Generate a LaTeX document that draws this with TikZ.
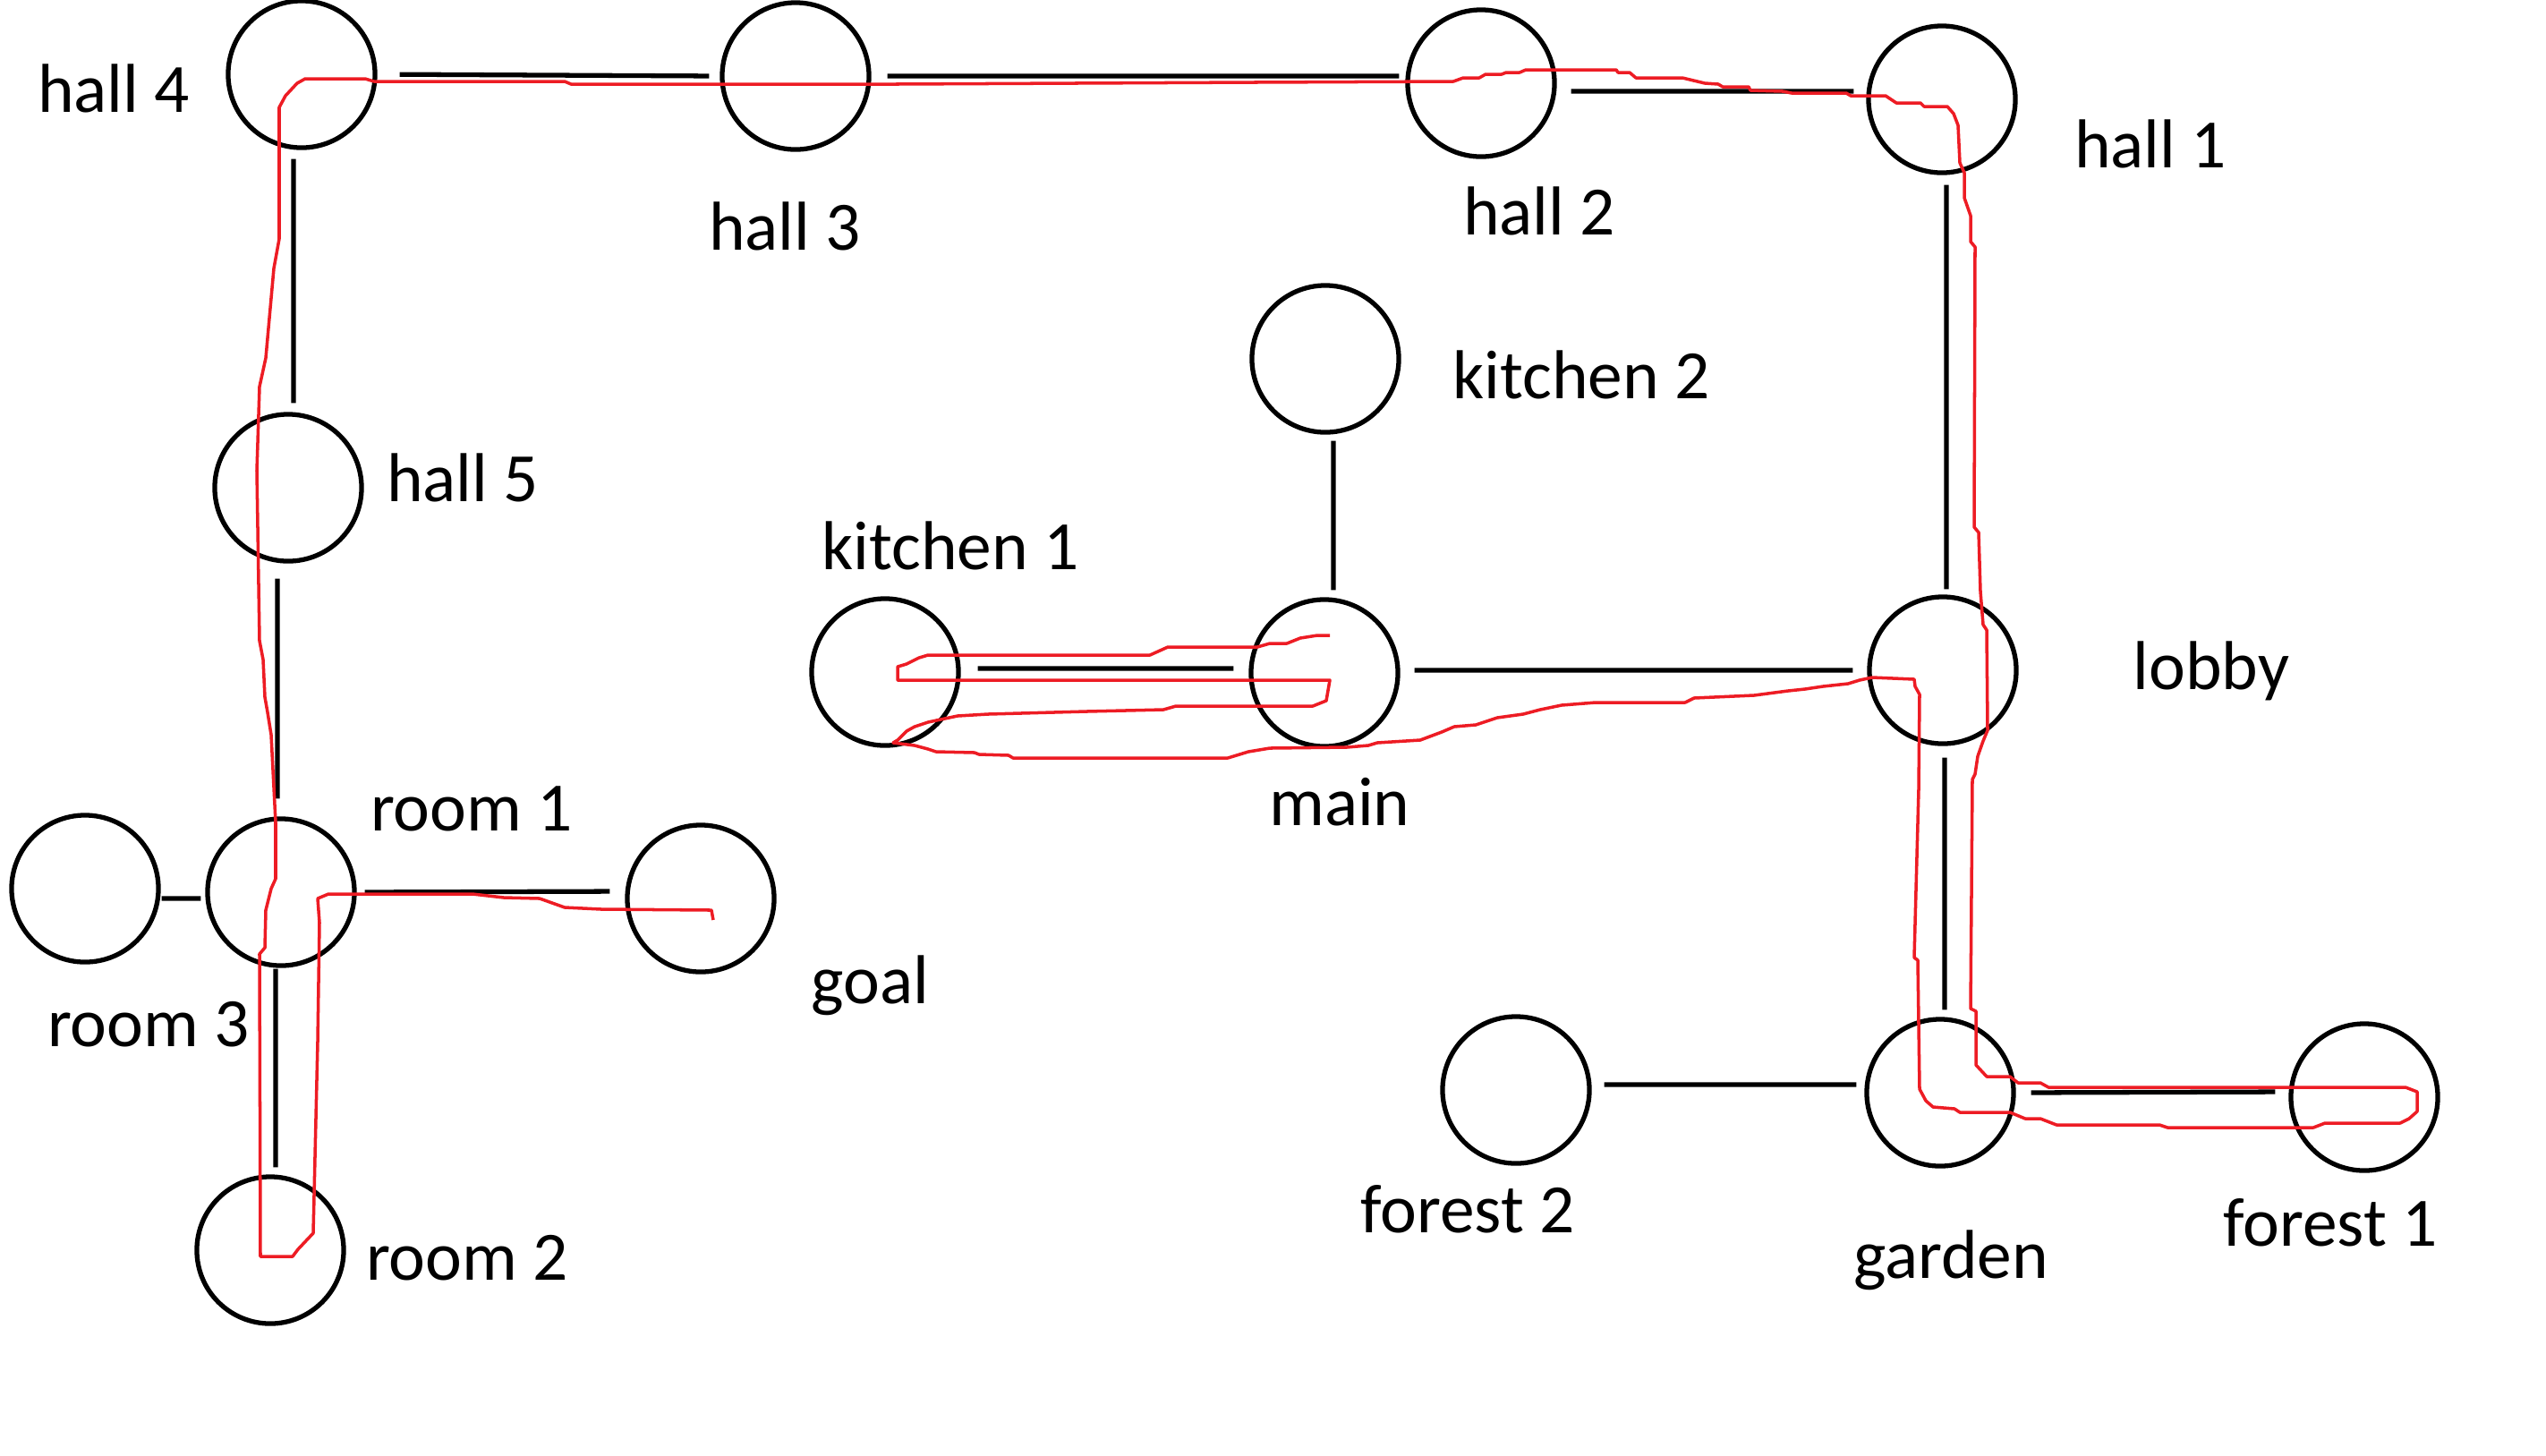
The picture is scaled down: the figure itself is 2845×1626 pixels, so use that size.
\documentclass[tikz,border=0pt]{standalone}
\usepackage{fontspec}
\setmainfont{Carlito}
\usepackage{xcolor}
\usepackage{tikz}
\usetikzlibrary{positioning}
\definecolor{paintred}{RGB}{237,28,36}

\begin{document}
\begin{tikzpicture}
	[x=0.01cm, y=-0.01cm,
		% STYLES
		% The place style is used for the rooms of the map
		place/.style={circle, draw, line width=1.5pt, minimum size=1.64cm, inner sep=0pt},
		% The tag style is used to write the name of each place
		tag/.style={anchor=base, inner sep=0pt, font=\fontsize{22}{26}\selectfont},
		% The way style is used for the passages between places
		way/.style={line width=1.5pt, shorten <=0.12cm, shorten >=0.12cm},
		% The route style is used for the path that was walked
		route/.style={draw=paintred, line width=1pt, line join=round}]

	\useasboundingbox (0,0) rectangle (2845,1626);

	% Draw places
	\node [place] (hall4) at (337,83) {};
	\node [place] (hall3) at (889,85) {};
	\node [place] (hall2) at (1655,93) {};
	\node [place] (hall1) at (2170,111) {};
	\node [place] (kitchen2) at (1481,401) {};
	\node [place] (hall5) at (322,545) {};
	\node [place] (kitchen1) at (989,751) {};
	\node [place] (main) at (1480,752) {};
	\node [place] (lobby) at (2171,749) {};
	\node [place] (room3) at (95,993) {};
	\node [place] (room1) at (314,997) {};
	\node [place] (goal) at (783,1004) {};
	\node [place] (forest2) at (1694,1218) {};
	\node [place] (garden) at (2168,1221) {};
	\node [place] (forest1) at (2642,1226) {};
	\node [place] (room2) at (302,1397) {};

	% Draw names
	\node [tag] (hall4-t) at (127,125) {hall 4};
	\node [tag] (hall3-t) at (877,279) {hall 3};
	\node [tag] (hall2-t) at (1720,262) {hall 2};
	\node [tag] (hall1-t) at (2403,187) {hall 1};
	\node [tag] (kitchen2-t) at (1767,445) {kitchen 2};
	\node [tag] (hall5-t) at (517,560) {hall 5};
	\node [tag] (kitchen1-t) at (1062,636) {kitchen 1};
	\node [tag] (lobby-t) at (2471,770) {lobby};
	\node [tag] (main-t) at (1497,922) {main};
	\node [tag] (room1-t) at (527,928) {room 1};
	\node [tag] (room3-t) at (166,1169) {room 3};
	\node [tag] (goal-t) at (972,1121) {goal};
	\node [tag] (forest2-t) at (1640,1377) {forest 2};
	\node [tag] (garden-t) at (2180,1428) {garden};
	\node [tag] (forest1-t) at (2604,1392) {forest 1};
	\node [tag] (room2-t) at (522,1430) {room 2};

	\path[way]
	(hall4.east) edge[shorten <=0.25cm] (hall3.west)
	(hall3.east) edge[shorten <=0.18cm, shorten >=0.07cm] ([yshift=0.08cm]hall2.west)
	([yshift=-0.09cm]hall2.east) edge[shorten <=0.16cm, shorten >=0.14cm] ([yshift=0.09cm]hall1.west)
	([xshift=0.05cm]hall1.south) edge[shorten <=0.11cm, shorten >=0.06cm] ([xshift=0.04cm]lobby.north)
	([xshift=-0.09cm]hall4.south) edge[shorten <=0.1cm, shorten >=0.1cm] ([xshift=0.06cm]hall5.north)
	([xshift=-0.12cm]hall5.south) edge[shorten <=0.17cm, shorten >=0.2cm] ([xshift=-0.04cm]room1.north)
	([yshift=-0.07cm]room1.west) edge[shorten <=0.05cm, shorten >=0.01cm] ([yshift=-0.11cm]room3.east)
	(room1.east) edge[shorten <=0.09cm, shorten >=0.17cm] ([yshift=0.08cm]goal.west)
	([xshift=-0.06cm]room1.south) edge[shorten <=0.01cm, shorten >=0.08cm] ([xshift=0.06cm]room2.north)
	([xshift=0.09cm]kitchen2.south) edge[shorten <=0.07cm, shorten >=0.08cm] ([xshift=0.1cm]main.north)
	([yshift=0.04cm]kitchen1.east) edge[shorten <=0.19cm, shorten >=0.17cm] ([yshift=0.05cm]main.west)
	([yshift=0.03cm]main.east) edge[shorten <=0.16cm, shorten >=0.16cm] (lobby.west)
	([xshift=0.02cm]lobby.south) edge[shorten <=0.13cm, shorten >=0.08cm] ([xshift=0.05cm]garden.north)
	([yshift=0.09cm]garden.west) edge[shorten <=0.09cm, shorten >=0.14cm] ([yshift=0.06cm]forest2.east)
	(garden.east) edge[shorten <=0.17cm, shorten >=0.15cm] ([yshift=0.06cm]forest1.west);

	% Draw the walked route
	\draw[route] (797,1028) -- (795,1017) -- (672,1016) -- (631,1014) -- (603,1004) -- (563,1003) -- (528,999)
	-- (367,999) -- (355,1004) -- (357,1031) -- (355,1164) -- (351,1336) -- (350,1378) -- (333,1396) -- (327,1404)
	-- (291,1404) -- (290,1066) -- (296,1059) -- (297,1017) -- (303,993) -- (308,982) -- (308,919) -- (303,821)
	-- (299,796) -- (296,779) -- (294,737) -- (290,716) -- (287,526) -- (290,432) -- (297,400) -- (306,300)
	-- (312,267) -- (312,120) -- (319,107) -- (332,93) -- (341,88) -- (408,88) -- (418,91) -- (631,91) -- (638,94)
	-- (1000,94) -- (1400,92) -- (1624,91) -- (1635,87) -- (1653,87) -- (1660,83) -- (1678,83) -- (1683,81)
	-- (1698,81) -- (1705,78) -- (1806,78) -- (1808,81) -- (1821,81) -- (1828,87) -- (1880,87) -- (1905,93)
	-- (1920,94) -- (1925,97) -- (1954,97) -- (1956,101) -- (1992,102) -- (2002,104) -- (2063,104) -- (2068,107)
	-- (2107,107) -- (2119,115) -- (2146,115) -- (2150,119) -- (2176,119) -- (2183,127) -- (2188,140) -- (2190,182)
	-- (2195,193) -- (2195,221) -- (2202,241) -- (2202,270) -- (2207,276) -- (2206,589) -- (2211,595) -- (2213,661)
	-- (2216,698) -- (2220,704) -- (2221,816) -- (2216,828) -- (2210,845) -- (2207,865) -- (2204,871) -- (2202,1127)
	-- (2208,1130) -- (2208,1190) -- (2220,1203) -- (2246,1203) -- (2255,1210) -- (2280,1210) -- (2289,1215)
	-- (2688,1215) -- (2701,1220) -- (2701,1242) -- (2692,1250) -- (2682,1255) -- (2598,1255) -- (2585,1260)
	-- (2422,1260) -- (2413,1257) -- (2298,1257) -- (2280,1250) -- (2263,1250) -- (2246,1243) -- (2190,1243)
	-- (2184,1239) -- (2160,1237) -- (2152,1230) -- (2145,1217) -- (2143,1073) -- (2139,1070) -- (2144,882)
	-- (2145,776) -- (2140,767) -- (2139,759) -- (2092,757) -- (2078,760) -- (2065,764) -- (2037,767) -- (2017,770)
	-- (1998,772) -- (1960,777) -- (1893,780) -- (1883,785) -- (1783,785) -- (1745,788) -- (1721,793) -- (1702,798)
	-- (1673,802) -- (1649,810) -- (1625,812) -- (1611,818) -- (1587,827) -- (1539,830) -- (1529,833) -- (1505,835)
	-- (1419,836) -- (1395,840) -- (1372,847) -- (1132,847) -- (1127,844) -- (1094,843) -- (1089,841) -- (1046,840)
	-- (1037,837) -- (1022,833) -- (998,830) -- (1003,827) -- (1013,817) -- (1022,812) -- (1037,807) -- (1051,804)
	-- (1070,800) -- (1104,798) -- (1214,795) -- (1300,793) -- (1314,789) -- (1467,789) -- (1482,783) -- (1486,760)
	-- (1003,760) -- (1003,745) -- (1013,742) -- (1027,735) -- (1037,732) -- (1285,732) -- (1305,723) -- (1405,723)
	-- (1419,719) -- (1438,719) -- (1453,713) -- (1472,710) -- (1486,710);
\end{tikzpicture}
\end{document}
